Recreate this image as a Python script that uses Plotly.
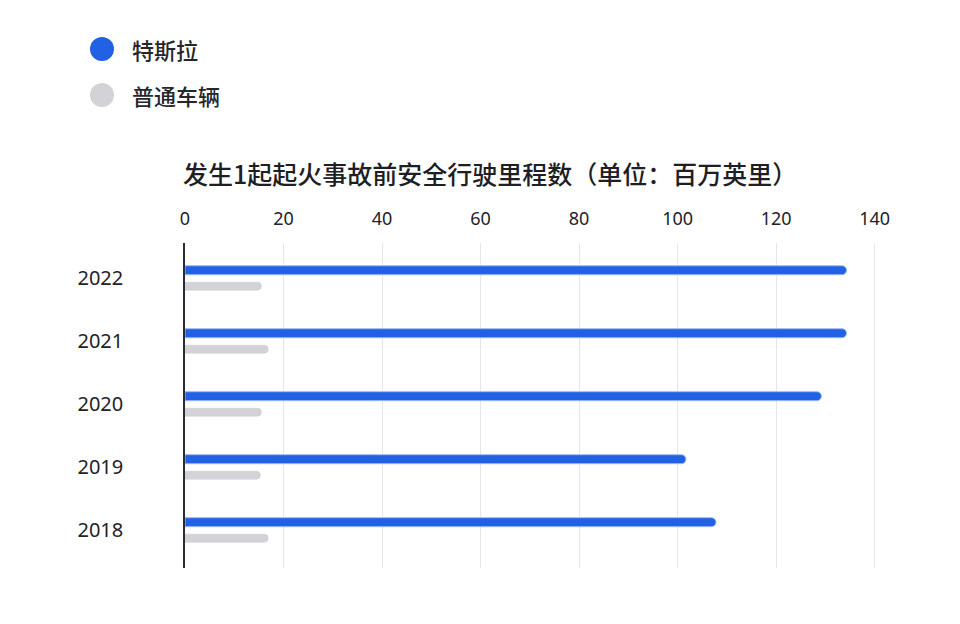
import plotly.graph_objects as go

# data (millions of miles per fire)
years = ["2022", "2021", "2020", "2019", "2018"]
tesla = [134.3, 134.3, 129.2, 101.7, 107.8]
normal = [15.5, 16.9, 15.5, 15.3, 16.9]

legend_names = ["特斯拉", "普通车辆"]
title_text = "发生1起起火事故前安全行驶里程数（单位：百万英里）"
x_ticks = [0, 20, 40, 60, 80, 100, 120, 140]

BLUE = "#2261E3"
GREY = "#D3D3D7"
CJK = "Noto Sans CJK SC"
NUM = "Noto Sans, Noto Sans CJK SC"

# page body adds an 8px margin, so work in screen pixels minus 8
OFF = 8
W, H = 960, 624
L, T = 185 - OFF, 243 - OFF
R, B = W - (882 - OFF), H - (568 - OFF)
pw = W - L - R
ph = H - T - B


def px_x(x):
    return (x - OFF - L) / pw


def px_y(y):
    return (H - B - (y - OFF)) / ph


fig = go.Figure()

fig.add_trace(go.Bar(
    y=years, x=tesla, orientation="h",
    name=legend_names[0], showlegend=False,
    width=0.143, offset=0.056,
    marker=dict(color=BLUE, line=dict(color="#9DBBF7", width=1), cornerradius="50%"),
))
fig.add_trace(go.Bar(
    y=years, x=normal, orientation="h",
    name=legend_names[1], showlegend=False,
    width=0.127, offset=-0.19,
    marker=dict(color=GREY, line=dict(color="#C9C9CE", width=0.5), cornerradius="50%"),
))

# hand made legend with big round dots
shapes = []
annotations = []
for i, (name, col) in enumerate(zip(legend_names, [BLUE, GREY])):
    cy = 49 + i * 46
    shapes.append(dict(
        type="circle", xref="paper", yref="paper",
        xsizemode="pixel", ysizemode="pixel",
        xanchor=px_x(102), yanchor=px_y(cy),
        x0=-12, x1=12, y0=-12, y1=12,
        fillcolor=col, line=dict(width=0),
    ))
    annotations.append(dict(
        xref="paper", yref="paper", x=px_x(130), y=px_y(cy),
        xanchor="left", yanchor="middle", showarrow=False,
        text=name, font=dict(family=CJK, size=22, color="#26262C", weight=500),
    ))

annotations.append(dict(
    xref="paper", yref="paper", x=px_x(181), y=px_y(173),
    xanchor="left", yanchor="middle", showarrow=False,
    text=title_text, font=dict(family=CJK, size=25, color="#1E1E24", weight=500),
))

fig.update_layout(
    width=W, height=H,
    margin=dict(l=L, r=R, t=T, b=B),
    paper_bgcolor="white", plot_bgcolor="white",
    barmode="overlay",
    shapes=shapes, annotations=annotations,
    xaxis=dict(
        side="top", range=[0, 141.5], tickvals=x_ticks,
        showgrid=True, gridcolor="#E6E6EA", gridwidth=1,
        zeroline=False, showline=False,
        ticks="outside", ticklen=10, tickcolor="rgba(0,0,0,0)",
        tickfont=dict(family=NUM, size=18, color="#222228"),
        fixedrange=True,
    ),
    yaxis=dict(
        categoryorder="array", categoryarray=years[::-1],
        range=[-0.6, 4.56],
        showgrid=False, zeroline=False,
        showline=True, linecolor="#2B2B33", linewidth=1.5,
        ticks="", ticklabelstandoff=56,
        tickfont=dict(family=NUM, size=20, color="#222228"),
        fixedrange=True,
    ),
)

fig.write_html("out.html")
